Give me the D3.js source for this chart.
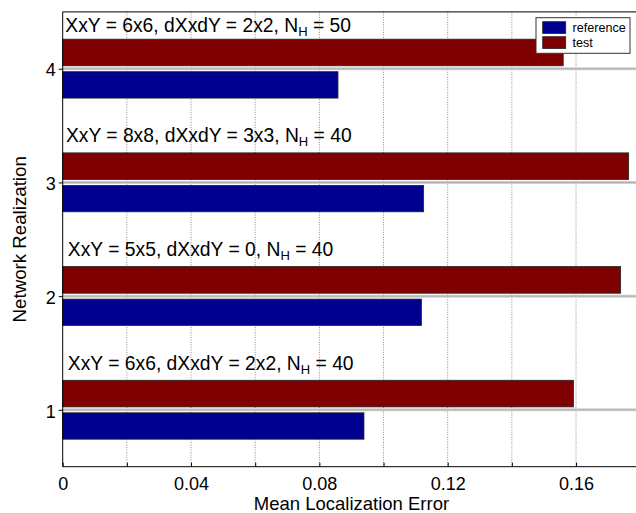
<!DOCTYPE html>
<html><head><meta charset="utf-8">
<script src="https://cdn.jsdelivr.net/npm/d3@7"></script>
<style>
html,body{margin:0;padding:0;background:#fff;overflow:hidden;}
text{font-family:"Liberation Sans",Arial,Helvetica,sans-serif;fill:#000;}
</style></head>
<body>
<svg id="chart" width="636" height="513"></svg>
<script>
const realizations = [1, 2, 3, 4];
const referenceValues = [0.0939, 0.1118, 0.1125, 0.0858];
const testValues = [0.1592, 0.1739, 0.1764, 0.1560];
const annotationMain = ["XxY = 6x6, dXxdY = 2x2, N", "XxY = 5x5, dXxdY = 0, N", "XxY = 8x8, dXxdY = 3x3, N", "XxY = 6x6, dXxdY = 2x2, N"];
const annotationSub = ["H", "H", "H", "H"];
const annotationTail = [" = 40", " = 40", " = 40", " = 50"];
const annotationX = [0.0016, 0.0016, 0.001, 0.0008];
const annotationY = [1.35, 2.35, 3.355, 4.32];
const xTicks = [0, 0.02, 0.04, 0.06, 0.08, 0.10, 0.12, 0.14, 0.16];
const xTickLabels = ["0", "", "0.04", "", "0.08", "", "0.12", "", "0.16"];
const seriesNames = ["reference", "test"];
const seriesColors = ["#00008f", "#7f0000"];

const svg = d3.select("#chart");
const x = d3.scaleLinear().domain([0, 0.18]).range([62.7, 640.2]);
const y = d3.scaleLinear().domain([0.5, 4.5]).range([466.7, 11.9]);

svg.append("rect").attr("x", x(0)).attr("y", y(4.5)).attr("width", x(0.18) - x(0)).attr("height", y(0.5) - y(4.5)).attr("fill", "#fff");

// grid
const grid = svg.append("g");
grid.selectAll("line.v").data(xTicks.slice(1)).enter().append("line")
  .attr("x1", d => x(d)).attr("x2", d => x(d)).attr("y1", y(4.5)).attr("y2", y(0.5))
  .attr("stroke", "#8a8a8a").attr("stroke-width", 1).attr("stroke-dasharray", "1,1.5");
grid.selectAll("line.h").data(realizations).enter().append("line")
  .attr("x1", x(0)).attr("x2", x(0.18)).attr("y1", d => y(d)).attr("y2", d => y(d))
  .attr("stroke", "#d0d0d0").attr("stroke-width", 3);
grid.selectAll("line.h2").data(realizations).enter().append("line")
  .attr("x1", x(0)).attr("x2", x(0.18)).attr("y1", d => y(d)).attr("y2", d => y(d))
  .attr("stroke", "#888").attr("stroke-width", 1).attr("stroke-dasharray", "1,1");

// bars
const bars = svg.append("g");
bars.selectAll("rect.ref").data(realizations).enter().append("rect")
  .attr("x", x(0)).attr("y", d => y(d - 0.026))
  .attr("width", (d, i) => x(referenceValues[i]) - x(0))
  .attr("height", d => y(d - 0.258) - y(d - 0.026))
  .attr("fill", seriesColors[0]).attr("stroke", "#222").attr("stroke-width", 0.8);
bars.selectAll("rect.test").data(realizations).enter().append("rect")
  .attr("x", x(0)).attr("y", d => y(d + 0.26))
  .attr("width", (d, i) => x(testValues[i]) - x(0))
  .attr("height", d => y(d + 0.026) - y(d + 0.26))
  .attr("fill", seriesColors[1]).attr("stroke", "#222").attr("stroke-width", 0.8);

// axes lines
svg.append("line").attr("x1", x(0)).attr("x2", x(0.18)).attr("y1", y(4.5)).attr("y2", y(4.5)).attr("stroke", "#000").attr("stroke-width", 1);
svg.append("line").attr("x1", x(0)).attr("x2", x(0.18)).attr("y1", y(0.5)).attr("y2", y(0.5)).attr("stroke", "#000").attr("stroke-width", 1);
svg.append("line").attr("x1", x(0)).attr("x2", x(0)).attr("y1", y(4.5)).attr("y2", y(0.5)).attr("stroke", "#000").attr("stroke-width", 1);

// x axis
const xAxis = d3.axisBottom(x).tickValues(xTicks).tickFormat((d, i) => xTickLabels[i]).tickSizeInner(-4).tickSizeOuter(0).tickPadding(10);
const gx = svg.append("g").attr("transform", `translate(0,${y(0.5)})`).call(xAxis);
gx.select(".domain").remove();
gx.selectAll("text").attr("font-size", "18px").attr("font-family", "Liberation Sans, Arial, sans-serif").attr("dy", "0.75em");

// y axis
const yAxis = d3.axisLeft(y).tickValues(realizations).tickFormat(d3.format("d")).tickSizeInner(4).tickSizeOuter(0).tickPadding(3);
const gy = svg.append("g").attr("transform", `translate(${x(0)},0)`).call(yAxis);
gy.select(".domain").remove();
gy.selectAll("text").attr("font-size", "18px").attr("font-family", "Liberation Sans, Arial, sans-serif").attr("dy", "0.4em");

// annotations
const ann = svg.append("g");
realizations.forEach((r, i) => {
  const t = ann.append("text").attr("x", x(annotationX[i])).attr("y", y(annotationY[i])).attr("font-size", "19.3px");
  t.append("tspan").text(annotationMain[i]);
  t.append("tspan").attr("font-size", "13px").attr("dy", "4").text(annotationSub[i]);
  t.append("tspan").attr("dy", "-4").text(annotationTail[i]);
});

// legend
const lg = svg.append("g");
lg.append("rect").attr("x", 536).attr("y", 17.7).attr("width", 94).attr("height", 35.6).attr("fill", "#fff").attr("stroke", "#333").attr("stroke-width", 1);
seriesNames.forEach((name, i) => {
  lg.append("rect").attr("x", 542.7).attr("y", 21.7 + i * 15).attr("width", 23).attr("height", 11.8)
    .attr("fill", seriesColors[i]).attr("stroke", "#222").attr("stroke-width", 0.8);
  lg.append("text").attr("x", 572.5).attr("y", 27.7 + i * 15).attr("dy", "0.36em").attr("font-size", "12.6px").text(name);
});

// titles
svg.append("text").attr("x", (x(0) + x(0.18)) / 2).attr("y", 510).attr("text-anchor", "middle").attr("font-size", "18.5px").text("Mean Localization Error");
svg.append("text").attr("transform", `translate(19,${(y(0.5) + y(4.5)) / 2}) rotate(-90)`).attr("text-anchor", "middle").attr("dy", "0.35em").attr("font-size", "18.7px").text("Network Realization");
</script>
</body></html>
